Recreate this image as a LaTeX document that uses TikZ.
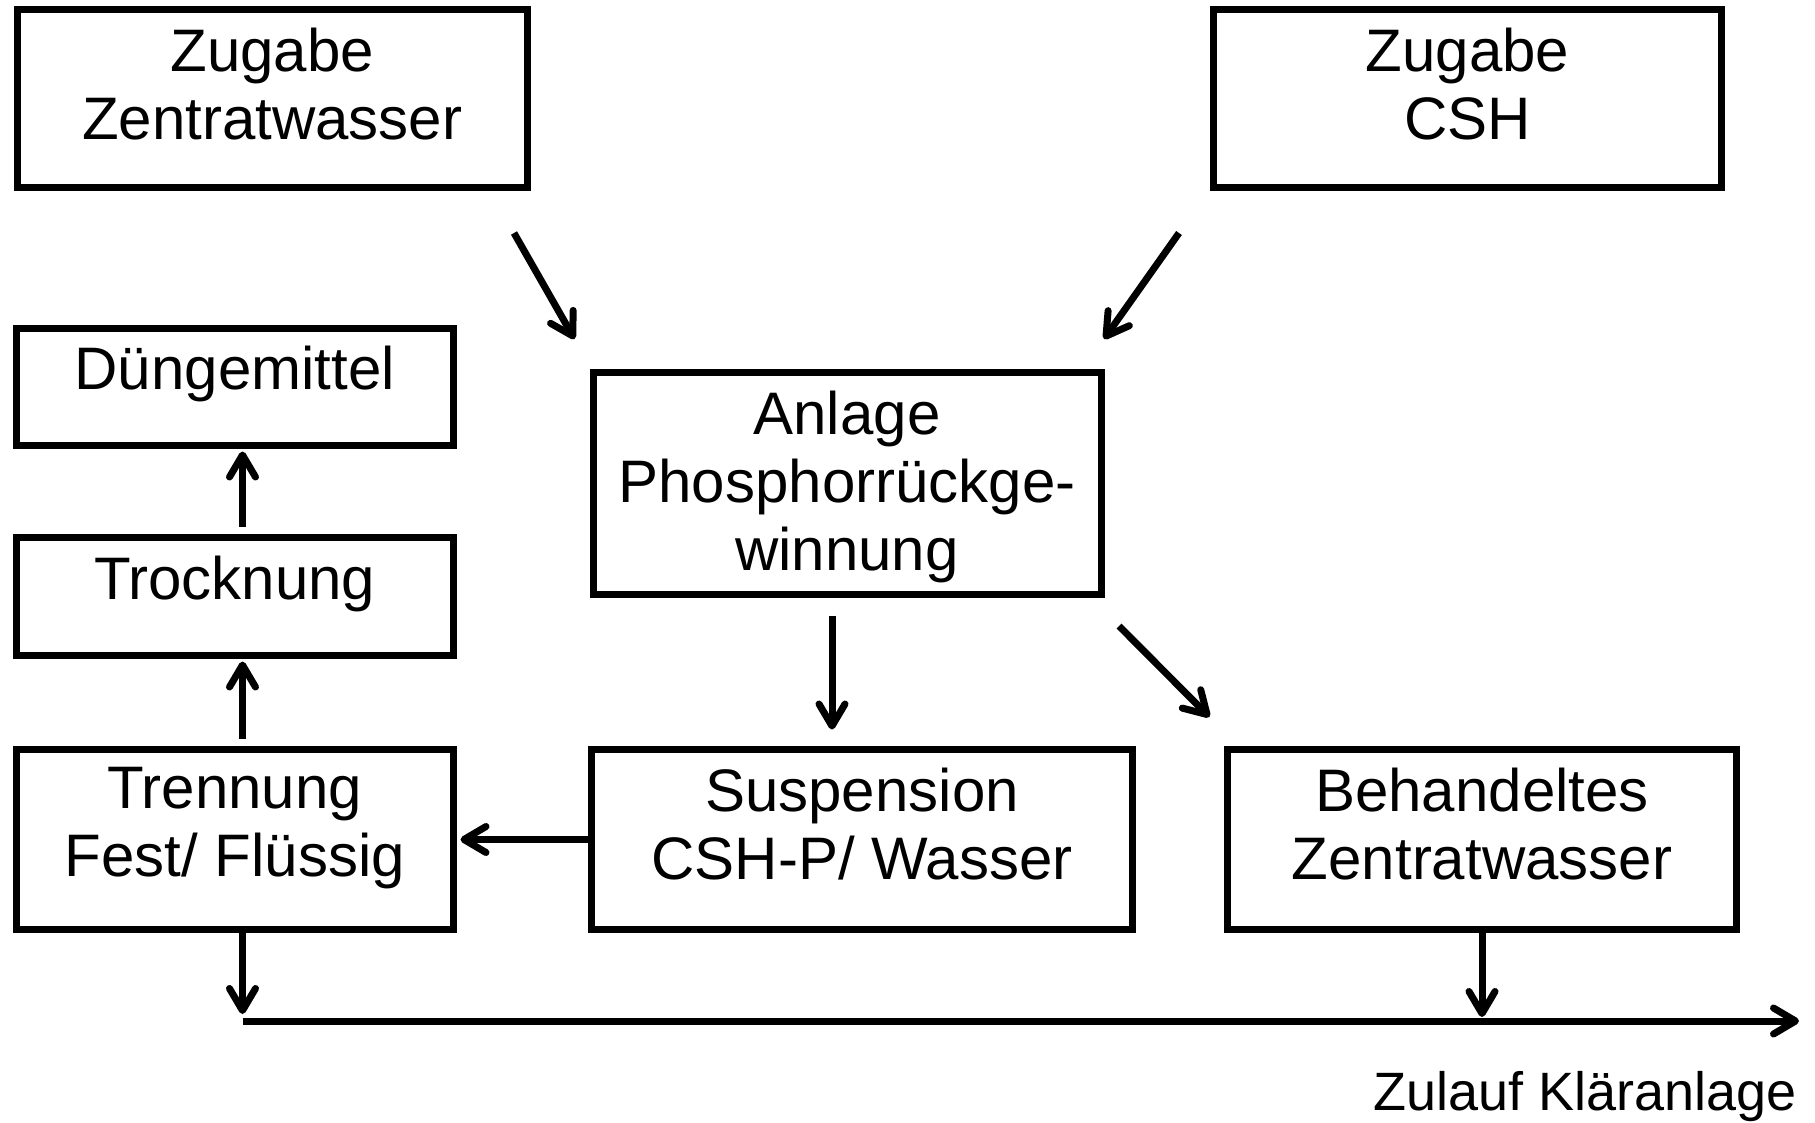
\documentclass[tikz,border=0pt]{standalone}
\usepackage{fontspec}
\setmainfont{Liberation Sans}
\usetikzlibrary{arrows.meta}
\begin{document}
\begin{tikzpicture}[x=1pt,y=-1pt,
  box/.style={draw, line width=7pt, rectangle, inner sep=0pt},
  txt/.style={font=\fontsize{60}{68}\selectfont, align=center, inner sep=0pt, anchor=north},
  arr/.style={line width=7pt, -{Straight Barb[length=22pt,width=26pt,round]}}]
\useasboundingbox (0,0) rectangle (1815,1122);
% boxes
\node[box, minimum width=510.5pt, minimum height=178pt] (zz) at (272.25,98.5) {};
\node[txt] (zzT) at ([yshift=-21.5pt]zz.north) {Zugabe\\Zentratwasser};
\node[box, minimum width=508pt, minimum height=178pt] (zc) at (1467.5,98.5) {};
\node[txt] (zcT) at ([yshift=-21.5pt]zc.north) {Zugabe\\CSH};
\node[box, minimum width=436.5pt, minimum height=117.5pt] (dm) at (234.75,386.75) {};
\node[txt] (dmT) at ([yshift=-21.5pt]dm.north) {Düngemittel};
\node[box, minimum width=436.5pt, minimum height=118pt] (tr) at (234.75,596.5) {};
\node[txt] (trT) at ([yshift=-21.5pt]tr.north) {Trocknung};
\node[box, minimum width=436.5pt, minimum height=180pt] (tn) at (234.75,839.5) {};
\node[txt] (tnT) at ([yshift=-21.5pt]tn.north) {Trennung\\Fest/ Flüssig};
\node[box, minimum width=508pt, minimum height=222pt] (an) at (847,483.5) {};
\node[txt] (anT) at ([yshift=-21.5pt]an.north) {Anlage\\Phosphorrückge-\\winnung};
\node[box, minimum width=541pt, minimum height=180pt] (su) at (862,839.5) {};
\node[txt] (suT) at ([yshift=-21.5pt]su.north) {Suspension\\CSH-P/ Wasser};
\node[box, minimum width=509pt, minimum height=180pt] (be) at (1482,839.5) {};
\node[txt] (beT) at ([yshift=-21.5pt]be.north) {Behandeltes\\Zentratwasser};
\node[font=\fontsize{54}{60}\selectfont, anchor=base east, inner sep=0pt] (zl) at (1797,1110) {Zulauf Kläranlage};
% free arrow ends
\coordinate (d1s) at (514,233);
\coordinate (d1e) at (574.5,339);
\coordinate (d2s) at (1179,233);
\coordinate (d2e) at (1104,339);
\coordinate (d3s) at (1119,626);
\coordinate (d3e) at (1209.5,717);
\coordinate (k1) at (242.5,1014);
\coordinate (k2) at (1482,1017);
\coordinate (j1) at (242.5,1021);
\coordinate (jout) at (1799,1021);
% connectors
\draw[arr] (d1s) -- (d1e);
\draw[arr] (d2s) -- (d2e);
\draw[arr] (d3s) -- (d3e);
\draw[arr] ([xshift=-15pt,yshift=-17.5pt]an.south) -- ([xshift=-30pt,yshift=16.5pt]su.north);
\draw[arr] ([xshift=7.75pt,yshift=7.5pt]tr.north) -- ([xshift=7.75pt,yshift=-2.5pt]dm.south);
\draw[arr] ([xshift=7.75pt,yshift=7.5pt]tn.north) -- ([xshift=7.75pt,yshift=-2.5pt]tr.south);
\draw[arr] ([xshift=3.5pt]su.west) -- ([xshift=4pt]tn.east);
\draw[arr] ([xshift=7.75pt]tn.south) -- (k1);
\draw[arr] (be.south) -- (k2);
\draw[arr] (j1) -- (jout);
\end{tikzpicture}
\end{document}
